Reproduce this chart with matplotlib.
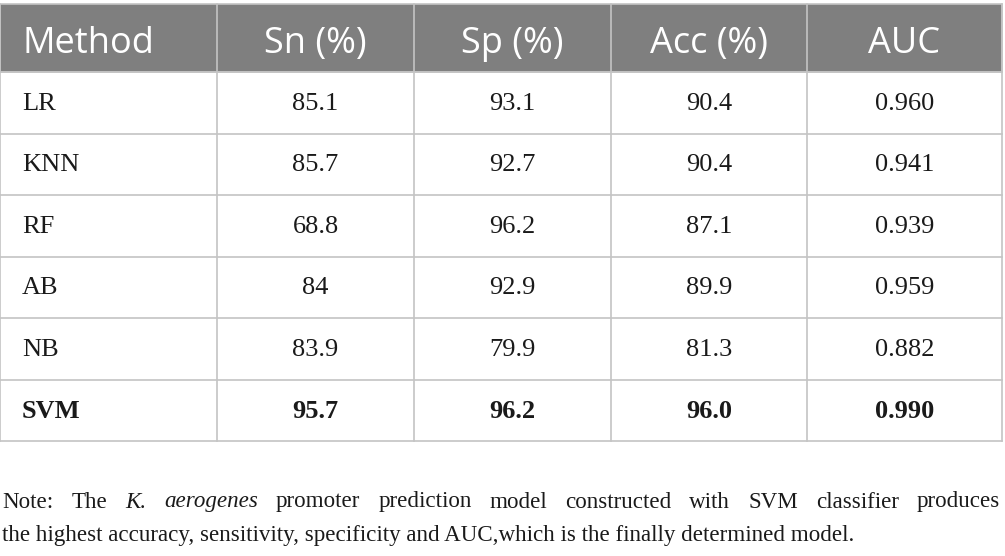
import matplotlib.pyplot as plt

# Table content
columns = ["Method", "Sn (%)", "Sp (%)", "Acc (%)", "AUC"]
methods = ["LR", "KNN", "RF", "AB", "NB", "SVM"]
sn = ["85.1", "85.7", "68.8", "84", "83.9", "95.7"]
sp = ["93.1", "92.7", "96.2", "92.9", "79.9", "96.2"]
acc = ["90.4", "90.4", "87.1", "89.9", "81.3", "96.0"]
auc = ["0.960", "0.941", "0.939", "0.959", "0.882", "0.990"]
bold_row = "SVM"

note_line1 = [
    ("Note:", "normal"), ("The", "normal"), ("K.", "italic"),
    ("aerogenes", "italic"), ("promoter", "normal"), ("prediction", "normal"),
    ("model", "normal"), ("constructed", "normal"), ("with", "normal"),
    ("SVM", "normal"), ("classifier", "normal"), ("produces", "normal"),
]
note_line2 = "the highest accuracy, sensitivity, specificity and AUC,which is the finally determined model."

# Layout in pixels
W, H = 1005, 556
col_edges = [0, 217, 414, 611, 807, 1002]
top, header_bot = 4, 72
row_h = (441 - header_bot) / len(methods)
header_color = "#7f7f7f"
line_color = "#c4c4c4"
text_color = "#1a1a1a"

fig = plt.figure(figsize=(W / 100, H / 100), dpi=100)
ax = fig.add_axes([0, 0, 1, 1])
ax.set_xlim(0, W)
ax.set_ylim(H, 0)
ax.axis("off")

# Header band
ax.add_patch(plt.Rectangle((col_edges[0], top), col_edges[-1] - col_edges[0],
                           header_bot - top, facecolor=header_color,
                           edgecolor=line_color, lw=1.2))
for i, name in enumerate(columns):
    yc = (top + header_bot) / 2 + 6
    if i == 0:
        ax.text(col_edges[0] + 22, yc, name, color="white", fontsize=26,
                family="Open Sans", ha="left", va="center")
    else:
        ax.text((col_edges[i] + col_edges[i + 1]) / 2, yc, name, color="white",
                fontsize=26, family="Open Sans", ha="center", va="center")

# Body rows
bottom = header_bot + row_h * len(methods)
for k in range(len(methods) + 1):
    y = header_bot + k * row_h
    ax.plot([col_edges[0], col_edges[-1]], [y, y], color=line_color, lw=1.2)
for x in col_edges:
    ax.plot([x, x], [top, bottom], color=line_color, lw=1.2)

cols_data = [sn, sp, acc, auc]
for r, m in enumerate(methods):
    yc = header_bot + (r + 0.5) * row_h + 1
    weight = "bold" if m == bold_row else "normal"
    ax.text(col_edges[0] + 22, yc, m, fontsize=19, family="Liberation Serif",
            fontweight=weight, ha="left", va="center", color=text_color)
    for c, vals in enumerate(cols_data):
        xc = (col_edges[c + 1] + col_edges[c + 2]) / 2
        ax.text(xc, yc, vals[r], fontsize=19, family="Liberation Serif",
                fontweight=weight, ha="center", va="center", color=text_color)

# Note below the table: first line justified to the table width
renderer = fig.canvas.get_renderer()
note_fs = 16.6
words = []
for w, style in note_line1:
    t = ax.text(0, 502, w, fontsize=note_fs, family="Liberation Serif",
                style=style, ha="left", va="center", color=text_color)
    words.append((t, t.get_window_extent(renderer=renderer).width))
left, right = 2, 1000
gap = (right - left - sum(wd for _, wd in words)) / (len(words) - 1)
x = left
for t, wd in words:
    t.set_x(x)
    x += wd + gap
ax.text(left, 536, note_line2, fontsize=note_fs, family="Liberation Serif",
        ha="left", va="center", color=text_color)

fig.savefig("out.png", dpi=100)
